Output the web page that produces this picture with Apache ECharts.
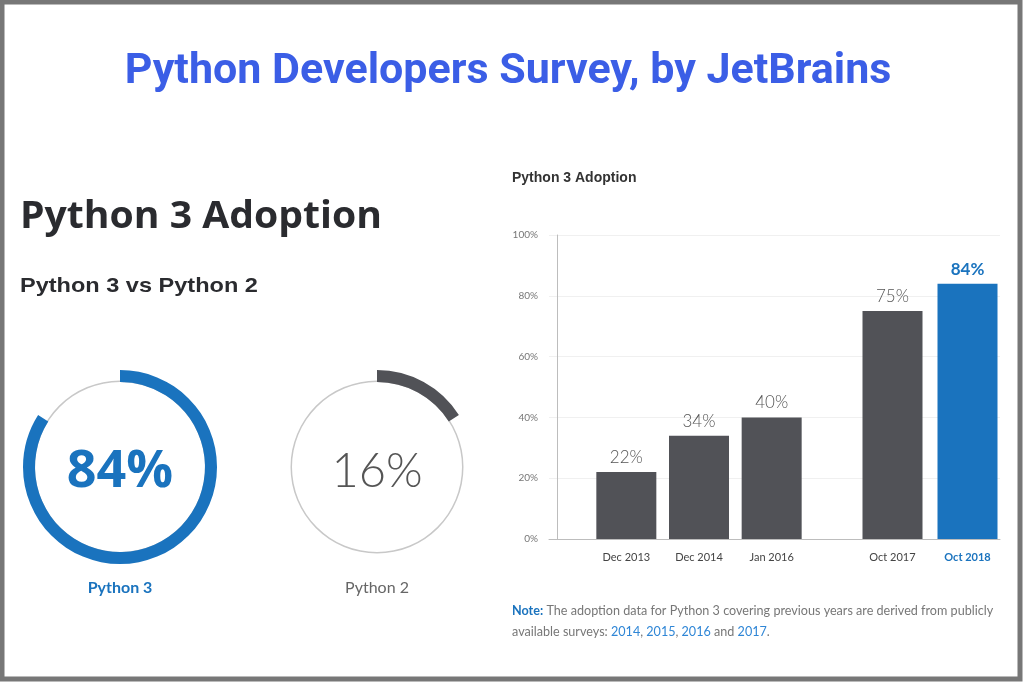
<!DOCTYPE html>
<html>
<head>
<meta charset="utf-8">
<script src="https://cdn.jsdelivr.net/npm/echarts@6/dist/echarts.min.js"></script>
<style>
  html, body { margin: 0; padding: 0; background: #fff; }
  #main { width: 1024px; height: 683px; }
</style>
</head>
<body>
<div id="main"></div>
<script>
// share of python 3 vs python 2 (rings on the left)
var shareNames = ['Python 3', 'Python 2'];
var shareValues = [84, 16];

// adoption over time (bars on the right)
var earlyYears = ['Dec 2013', 'Dec 2014', 'Jan 2016'];
var earlyValues = [22, 34, 40];
var lateYears = ['Oct 2017', 'Oct 2018'];
var lateValues = [75, 84];
var yTicks = [0, 20, 40, 60, 80, 100];

var BLUE = '#1a73be';
var DARK = '#515257';
var myChart = echarts.init(document.getElementById('main'));

// ring for one share: value arc plus transparent rest
function ring(idx, cx, color) {
    return {
        type: 'pie',
        center: [cx, 467],
        radius: [85, 97],
        silent: true,
        startAngle: 90,
        clockwise: true,
        label: {show: false},
        labelLine: {show: false},
        data: [
            {value: shareValues[idx], itemStyle: {color: color}},
            {value: 100 - shareValues[idx], itemStyle: {color: 'transparent'}}
        ],
        z: 3
    };
}
function thinCircle(cx) {
    return {
        type: 'pie',
        center: [cx, 467],
        radius: [85, 86.5],
        silent: true,
        label: {show: false},
        data: [{value: 1, itemStyle: {color: '#c8c8c8'}}],
        z: 2
    };
}

function barLabel(name) {
    return name === 'Oct 2018' ? {value: name, textStyle: {color: BLUE, fontWeight: 'bold'}} : name;
}

myChart.setOption({
    animation: false,
    textStyle: {fontFamily: 'Lato'},
    grid: [
        {left: 549, right: 24, top: 235, bottom: 144},   // background axis
        {left: 590, width: 218, top: 235, bottom: 144},
        {left: 855, width: 150, top: 235, bottom: 144}
    ],
    xAxis: [
        {gridIndex: 0, type: 'value', min: 0, max: 1, show: true,
            axisLine: {show: true, lineStyle: {color: '#bdbdbd'}}, axisTick: {show: false},
            axisLabel: {show: false}, splitLine: {show: false}},
        {gridIndex: 1, type: 'category', data: earlyYears.map(barLabel),
            axisLine: {show: false}, axisTick: {show: false},
            axisLabel: {color: '#444', fontSize: 11, margin: 13, fontFamily: 'Lato'}},
        {gridIndex: 2, type: 'category', data: lateYears.map(barLabel),
            axisLine: {show: false}, axisTick: {show: false},
            axisLabel: {color: '#444', fontSize: 11, margin: 13, fontFamily: 'Lato'}}
    ],
    yAxis: [
        {gridIndex: 0, type: 'value', min: yTicks[0], max: yTicks[yTicks.length - 1], interval: 20,
            offset: -8,
            axisLine: {show: true, lineStyle: {color: '#bdbdbd'}}, axisTick: {show: false},
            axisLabel: {color: '#777', fontSize: 10, margin: 19, formatter: '{value}%'},
            splitLine: {lineStyle: {color: '#f0f0f0'}}},
        {gridIndex: 1, type: 'value', min: 0, max: 100, show: false},
        {gridIndex: 2, type: 'value', min: 0, max: 100, show: false}
    ],
    series: [
        {
            type: 'bar', xAxisIndex: 1, yAxisIndex: 1,
            data: earlyValues, barWidth: 60,
            itemStyle: {color: DARK},
            label: {show: true, position: 'top', distance: 6, formatter: '{c}%',
                color: '#555', fontSize: 17, fontWeight: 300, fontFamily: 'Lato'}
        },
        {
            type: 'bar', xAxisIndex: 2, yAxisIndex: 2, barWidth: 60,
            data: lateValues.map(function (v, i) {
                return i === lateValues.length - 1 ? {value: v, itemStyle: {color: BLUE},
                    label: {color: BLUE, fontWeight: 'bold'}} : v;
            }),
            itemStyle: {color: DARK},
            label: {show: true, position: 'top', distance: 6, formatter: '{c}%',
                color: '#555', fontSize: 17, fontWeight: 300, fontFamily: 'Lato'}
        },
        thinCircle(120), thinCircle(377),
        ring(0, 120, BLUE), ring(1, 377, DARK)
    ],
    graphic: [
        {type: 'rect', shape: {x: 2, y: 2, width: 1018, height: 677},
            style: {fill: 'none', stroke: '#777', lineWidth: 5}, silent: true},
        {type: 'text', x: 508, y: 72,
            style: {text: 'Python Developers Survey, by JetBrains', fill: '#3b5ee6',
                font: 'bold 43px Roboto', textAlign: 'center', textVerticalAlign: 'middle'}},
        {type: 'text', x: 20, y: 217, scaleX: 1.03,
            style: {text: 'Python 3 Adoption', fill: '#2a2b2f',
                font: 'bold 38px "Open Sans"', textVerticalAlign: 'middle'}},
        {type: 'text', x: 20, y: 286, scaleX: 1.12,
            style: {text: 'Python 3 vs Python 2', fill: '#2a2b2f',
                font: 'bold 21px "Liberation Sans"', textVerticalAlign: 'middle'}},
        {type: 'text', x: 120, y: 472,
            style: {text: shareValues[0] + '%', fill: BLUE,
                font: 'bold 52px "Open Sans"', textAlign: 'center', textVerticalAlign: 'middle'}},
        {type: 'text', x: 377, y: 472,
            style: {text: shareValues[1] + '%', fill: '#555',
                font: '300 47px Lato', textAlign: 'center', textVerticalAlign: 'middle'}},
        {type: 'text', x: 120, y: 588,
            style: {text: shareNames[0], fill: BLUE,
                font: 'bold 16px Lato', textAlign: 'center', textVerticalAlign: 'middle'}},
        {type: 'text', x: 377, y: 588,
            style: {text: shareNames[1], fill: '#666',
                font: '16px Lato', textAlign: 'center', textVerticalAlign: 'middle'}},
        {type: 'text', x: 512, y: 178,
            style: {text: 'Python 3 Adoption', fill: '#333',
                font: 'bold 14px "Liberation Sans"', textVerticalAlign: 'middle'}},
        {type: 'text', x: 512, y: 600,
            style: {
                text: '{b|Note:} The adoption data for Python 3 covering previous years are derived from publicly\n' +
                      'available surveys: {l|2014}, {l|2015}, {l|2016} and {l|2017}.',
                fill: '#777', font: '12.6px Lato', lineHeight: 21,
                rich: {
                    b: {fill: BLUE, fontWeight: 'bold', fontSize: 12.6, fontFamily: 'Lato'},
                    l: {fill: '#2f86d6', fontSize: 12.6, fontFamily: 'Lato'}
                }
            }}
    ]
});
</script>
</body>
</html>
